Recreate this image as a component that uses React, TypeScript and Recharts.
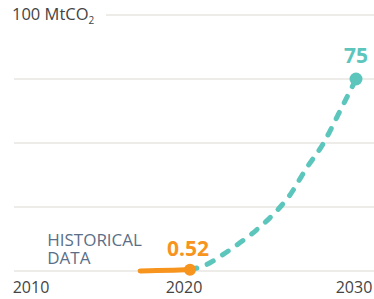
import React from "react";
import { LineChart, Line, XAxis, YAxis, CartesianGrid } from "recharts";

const historicalYears = [2017, 2018, 2019, 2020];
const historicalValues = [0.02, 0.15, 0.3, 0.52];
const projectionYears = [2020, 2021, 2022, 2023, 2024, 2025, 2026, 2027, 2028, 2029, 2030];
const projectionValues = [0.52, 2.5, 6.5, 11, 16, 22, 29.5, 40, 49.5, 62, 75];
const xTicks = [2010, 2020, 2030];
const yTicks = [0, 25, 50, 75, 100];
const unitLabel = "100 MtCO";
const historicalLabel = ["HISTORICAL", "DATA"];

const ORANGE = "#F7941D";
const TEAL = "#5CC6BD";
const GRID = "#E8E6E1";
const FONT = "'Open Sans', 'DejaVu Sans', sans-serif";

const allYears = Array.from(new Set([...historicalYears, ...projectionYears])).sort((a, b) => a - b);
const data = allYears.map((year) => {
  const hi = historicalYears.indexOf(year);
  const pi = projectionYears.indexOf(year);
  return {
    year,
    hist: hi >= 0 ? historicalValues[hi] : null,
    proj: pi >= 0 ? projectionValues[pi] : null,
  };
});

const lastHistYear = historicalYears[historicalYears.length - 1];
const firstHistYear = historicalYears[0];
const lastProjYear = projectionYears[projectionYears.length - 1];

const HistDot = (props: any) => {
  const { cx, cy, payload } = props;
  if (payload.year === lastHistYear) {
    return (
      <g key={`hd-${payload.year}`}>
        <circle cx={cx} cy={cy} r={6} fill={ORANGE} />
        <text x={cx - 2} y={cy - 14} textAnchor="middle" fill={ORANGE} fontFamily={FONT} fontWeight={700} fontSize={21}>
          {historicalValues[historicalValues.length - 1]}
        </text>
      </g>
    );
  }
  if (payload.year === firstHistYear) {
    return (
      <g key={`hd-${payload.year}`}>
        <text x={cx - 93} y={cy - 25} textAnchor="start" fill="#5A6F87" fontFamily={FONT} fontWeight={400} fontSize={17}>
          <tspan x={cx - 93}>{historicalLabel[0]}</tspan>
          <tspan x={cx - 93} dy={18}>{historicalLabel[1]}</tspan>
        </text>
      </g>
    );
  }
  return <g key={`hd-${payload.year}`} />;
};

const ProjDot = (props: any) => {
  const { cx, cy, payload } = props;
  if (payload.year === lastProjYear) {
    return (
      <g key={`pd-${payload.year}`}>
        <circle cx={cx} cy={cy} r={6.5} fill={TEAL} />
        <text x={cx} y={cy - 16} textAnchor="middle" fill={TEAL} fontFamily={FONT} fontWeight={700} fontSize={21}>
          {projectionValues[projectionValues.length - 1]}
        </text>
      </g>
    );
  }
  return <g key={`pd-${payload.year}`} />;
};

const tickShift = [7, -6, -2];
const XTick = (props: any) => {
  const { x, y, payload, index } = props;
  return (
    <text x={x + (tickShift[index] || 0)} y={y + 14} textAnchor="middle" fill="#444444" fontFamily={FONT} fontSize={16}>
      {payload.value}
    </text>
  );
};

const YTick = (props: any) => {
  const { y, payload } = props;
  if (payload.value !== yTicks[yTicks.length - 1]) return <g />;
  return (
    <g>
      <rect x={0} y={y - 8} width={106} height={16} fill="#ffffff" />
      <text x={12} y={y + 5} fill="#444444" fontFamily={FONT} fontSize={16.5}>
        {unitLabel}
        <tspan fontSize={10} dy={4}>2</tspan>
      </text>
    </g>
  );
};

export default function App() {
  return (
    <div style={{ position: "absolute", left: 0, top: 0, width: 374, height: 299, background: "#fff" }}>
      <LineChart width={374} height={299} data={data} margin={{ top: 15, right: 0, bottom: 0, left: 0 }}>
        <CartesianGrid vertical={false} stroke={GRID} strokeWidth={1.5} />
        <XAxis
          dataKey="year"
          type="number"
          domain={[xTicks[0], xTicks[xTicks.length - 1]]}
          ticks={xTicks}
          padding={{ left: 10, right: 18 }}
          axisLine={false}
          tickLine={false}
          height={28}
          tick={<XTick />}
          interval={0}
        />
        <YAxis
          type="number"
          domain={[0, 100]}
          ticks={yTicks}
          width={14}
          axisLine={false}
          tickLine={false}
          tick={<YTick />}
          interval={0}
        />
        <Line
          dataKey="proj"
          type="monotone"
          stroke={TEAL}
          strokeWidth={5}
          strokeDasharray="7 11"
          strokeLinecap="round"
          dot={<ProjDot />}
          activeDot={false}
          isAnimationActive={false}
        />
        <Line
          dataKey="hist"
          type="monotone"
          stroke={ORANGE}
          strokeWidth={5}
          strokeLinecap="round"
          dot={<HistDot />}
          activeDot={false}
          isAnimationActive={false}
        />
      </LineChart>
    </div>
  );
}
